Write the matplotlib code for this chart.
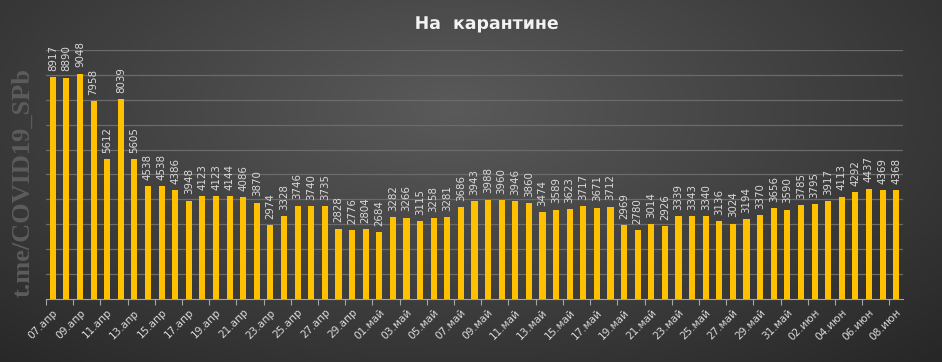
import numpy as np
import matplotlib.pyplot as plt
import matplotlib.patheffects as pe

# данные: на карантине, СПб
dates = ([f"{d:02d}.апр" for d in range(7, 31)] +
         [f"{d:02d}.май" for d in range(1, 32)] +
         [f"{d:02d}.июн" for d in range(1, 9)])
values = [8917, 8890, 9048, 7958, 5612, 8039, 5605, 4538, 4538, 4386,
          3948, 4123, 4123, 4144, 4086, 3870, 2974, 3328, 3746, 3740,
          3735, 2828, 2776, 2804, 2684, 3282, 3266, 3115, 3258, 3281,
          3686, 3943, 3988, 3960, 3946, 3860, 3474, 3589, 3623, 3717,
          3671, 3712, 2969, 2780, 3014, 2926, 3339, 3343, 3340, 3136,
          3024, 3194, 3370, 3656, 3590, 3785, 3795, 3917, 4113, 4292,
          4437, 4369, 4368]
title = "На  карантине"
watermark = "t.me/COVID19_SPb"

txt_col = "#d9d9d9"
bar_col = "#ffc000"

fig = plt.figure(figsize=(9.42, 3.62), dpi=100)

# фон: радиальный градиент
bg = fig.add_axes([0, 0, 1, 1], zorder=-10)
yy, xx = np.mgrid[0:1:362j, 0:1:942j]
r = np.sqrt(((xx - 0.48) / 0.75) ** 2 + ((yy - 0.3) / 0.95) ** 2)
r = np.clip(r, 0, 1)
light, dark = 0x5a, 0x27
g = (light - (light - dark) * r) / 255.0
img = np.dstack([g, g, g])
bg.imshow(img, aspect="auto", extent=[0, 1, 0, 1], origin="upper")
bg.axis("off")

ax = fig.add_axes([0.0488, 0.174, 0.9098, 0.688])
ax.patch.set_alpha(0)
x = np.arange(len(values))
ax.bar(x, values, width=0.45, color=bar_col, zorder=3)

for xi, v in zip(x, values):
    ax.text(xi, v + 250, str(v), rotation=90, ha="center", va="bottom",
            fontsize=7.4, color=txt_col, zorder=4)

ax.set_xlim(-0.5, len(values) - 0.5)
ax.set_ylim(0, 10000)
ax.set_yticks(np.arange(1000, 10001, 1000))
ax.yaxis.grid(True, color="#6b6b6b", linewidth=0.9, zorder=0)
ax.tick_params(axis="y", left=False, labelleft=False)

ax.set_xticks(np.arange(-0.5, len(values), 2))
ax.tick_params(axis="x", which="major", length=4, color="#a6a6a6",
               labelbottom=False)
ax.set_xticks(x[::2], minor=True)
ax.set_xticklabels(dates[::2], minor=True, rotation=45, ha="right",
                   rotation_mode="anchor", fontsize=7.6, color=txt_col)
ax.tick_params(axis="x", which="minor", length=0, pad=6)

for s in ["top", "right", "left"]:
    ax.spines[s].set_visible(False)
ax.spines["bottom"].set_color("#a6a6a6")

fig.text(0.517, 0.934, title, ha="center", va="center", fontsize=12.5,
         fontweight="bold", color="#f2f2f2",
         path_effects=[pe.withSimplePatchShadow(offset=(1, -1), alpha=0.8)])

fig.text(0.024, 0.497, watermark, rotation=90, ha="center", va="center",
         fontsize=19, fontweight="bold", family="Liberation Serif",
         color="#5c5c5c")

fig.savefig("out.png", dpi=100)
